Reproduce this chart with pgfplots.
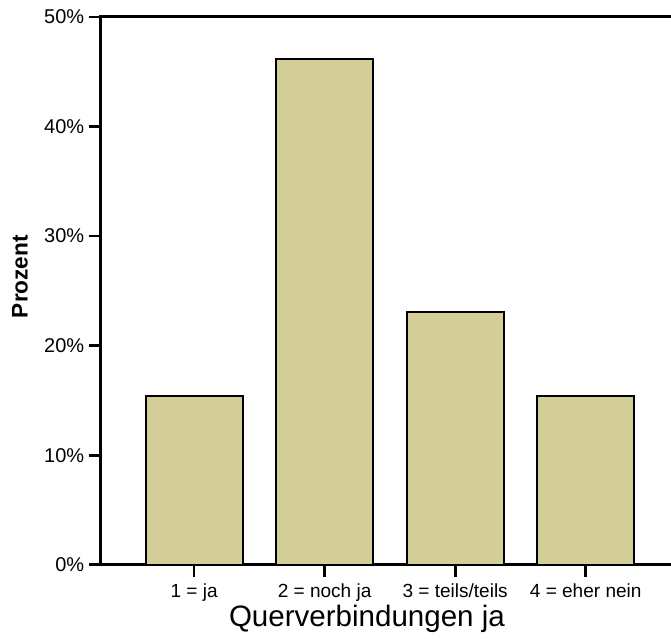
\documentclass[border=0pt]{standalone}
\usepackage{fontspec}
\setmainfont{Liberation Sans}
\usepackage{pgfplots}
\pgfplotsset{compat=1.18}
\definecolor{bartan}{RGB}{211,206,152}
\begin{document}
\begin{tikzpicture}
\begin{axis}[
  scale only axis,
  width=427.5pt, height=411.75pt,
  xmin=0.285, xmax=4.642,
  ymin=0, ymax=50,
  axis x line=box, axis y line=left,
  x axis line style={-}, y axis line style={-},
  axis line style={line width=2.25pt, line cap=rect},
  xtick={1,2,3,4},
  xticklabels={1 = ja, 2 = noch ja, 3 = teils/teils, 4 = eher nein},
  xtick pos=left,
  ytick={0,10,20,30,40,50},
  yticklabels={0\%,10\%,20\%,30\%,40\%,50\%},
  tick align=outside,
  major tick length=9pt,
  every tick/.style={black, line width=2pt},
  x tick label style={font=\fontsize{14.3}{16}\selectfont, anchor=base, yshift=-16pt},
  y tick label style={font=\fontsize{15}{17}\selectfont},
  xlabel={Querverbindungen ja},
  xlabel style={at={(rel axis cs:0.468,-0.1129)}, anchor=base, font=\fontsize{22.2}{24}\selectfont},
  ylabel={Prozent},
  ylabel style={at={(rel axis cs:-0.1421,0.526)}, anchor=center, font=\fontsize{17}{19}\selectfont\bfseries},
  ybar, bar width=0.742,
  clip=false,
]
\addplot[fill=bartan, draw=black, line width=1.5pt] coordinates {(1,15.38) (2,46.15) (3,23.08) (4,15.38)};
\end{axis}
\path[use as bounding box] ([xshift=-75.75pt,yshift=-55.5pt]current axis.south west) rectangle ([yshift=12.75pt]current axis.north east);
\end{tikzpicture}
\end{document}
